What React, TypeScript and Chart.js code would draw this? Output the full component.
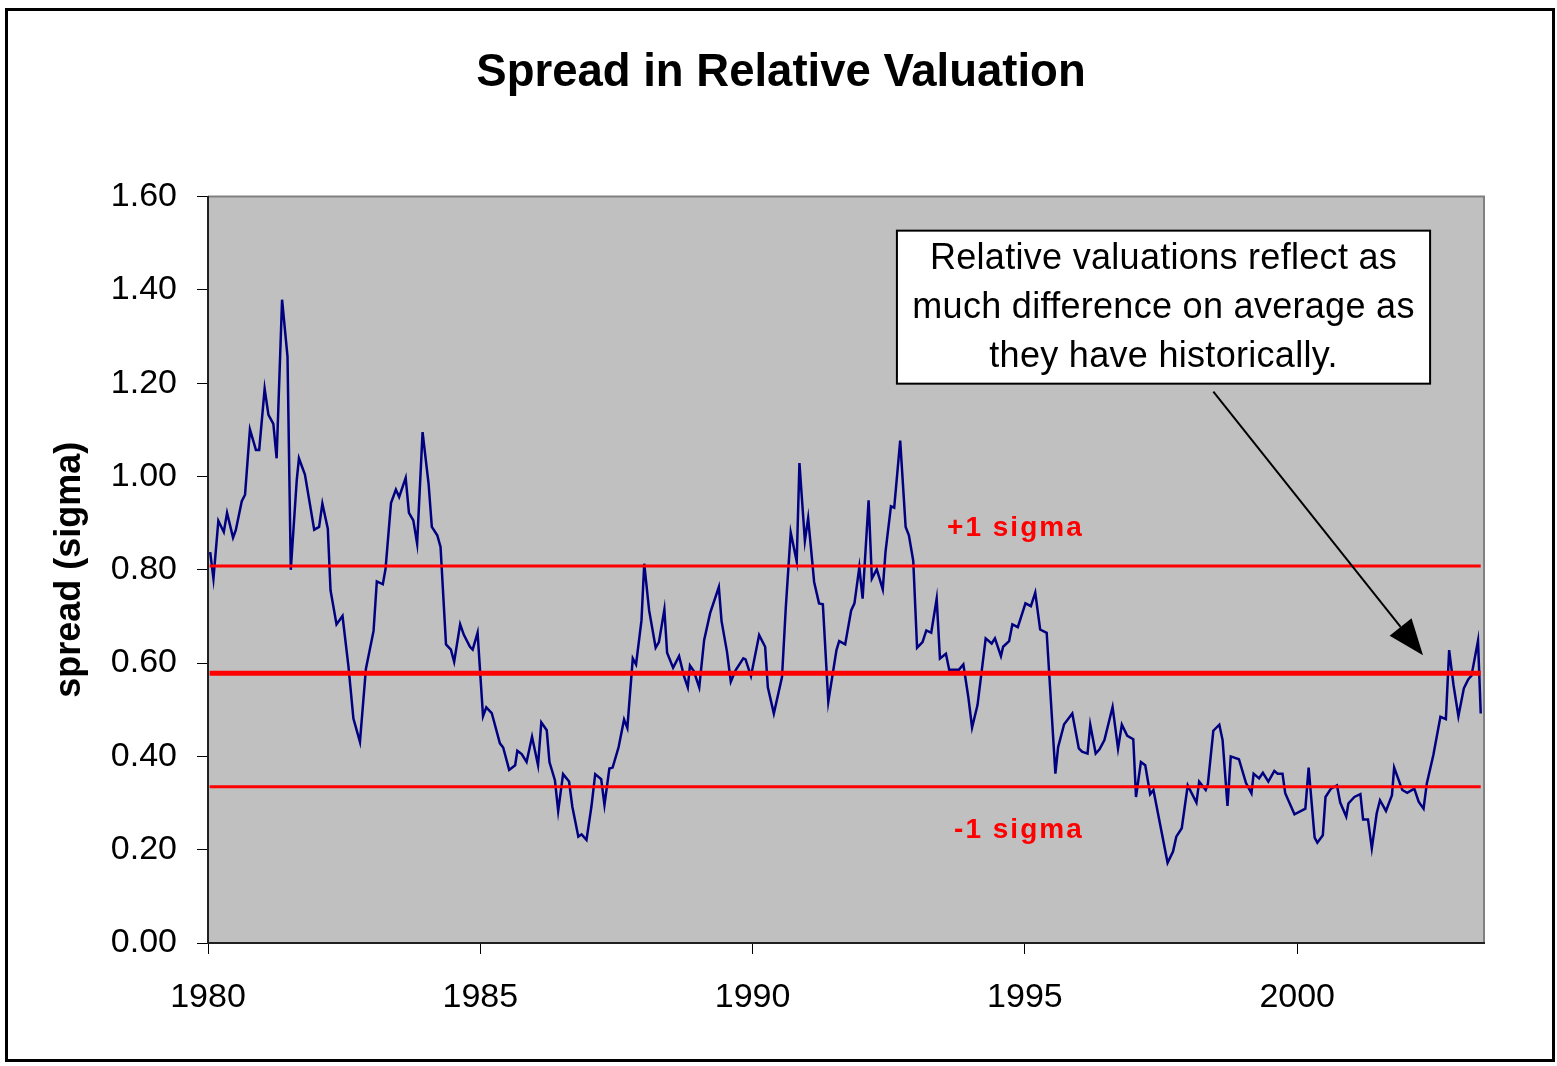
import React, { useEffect, useRef } from "react";
import { Chart, registerables } from "chart.js";

Chart.register(...registerables);

// ---- Data ----
const years: number[] = [
  1980.04, 1980.10, 1980.19, 1980.29, 1980.35, 1980.46, 1980.51, 1980.62, 1980.68, 1980.77,
  1980.88, 1980.94, 1981.04, 1981.11, 1981.20, 1981.26, 1981.36, 1981.46, 1981.52, 1981.63,
  1981.67, 1981.78, 1981.95, 1982.04, 1982.10, 1982.20, 1982.25, 1982.36, 1982.47, 1982.58,
  1982.67, 1982.79, 1982.90, 1983.04, 1983.10, 1983.21, 1983.26, 1983.36, 1983.45, 1983.51,
  1983.63, 1983.69, 1983.77, 1983.84, 1983.94, 1984.05, 1984.11, 1984.21, 1984.27, 1984.37,
  1984.46, 1984.52, 1984.63, 1984.70, 1984.81, 1984.86, 1984.95, 1985.05, 1985.11, 1985.21,
  1985.36, 1985.42, 1985.53, 1985.64, 1985.68, 1985.76, 1985.85, 1985.95, 1986.06, 1986.12,
  1986.22, 1986.27, 1986.37, 1986.43, 1986.52, 1986.63, 1986.69, 1986.80, 1986.86, 1986.95,
  1987.04, 1987.11, 1987.22, 1987.28, 1987.37, 1987.43, 1987.54, 1987.64, 1987.70, 1987.80,
  1987.86, 1987.96, 1988.01, 1988.10, 1988.22, 1988.28, 1988.38, 1988.43, 1988.54, 1988.65,
  1988.74, 1988.81, 1988.85, 1988.92, 1989.02, 1989.11, 1989.22, 1989.38, 1989.43, 1989.53,
  1989.60, 1989.69, 1989.83, 1989.87, 1989.97, 1990.12, 1990.23, 1990.28, 1990.39, 1990.54,
  1990.61, 1990.70, 1990.81, 1990.86, 1990.96, 1991.02, 1991.13, 1991.22, 1991.29, 1991.39,
  1991.54, 1991.59, 1991.70, 1991.81, 1991.87, 1991.96, 1992.02, 1992.13, 1992.19, 1992.28,
  1992.39, 1992.44, 1992.54, 1992.60, 1992.71, 1992.81, 1992.87, 1992.95, 1993.02, 1993.12,
  1993.19, 1993.28, 1993.38, 1993.44, 1993.55, 1993.61, 1993.79, 1993.87, 1993.96, 1994.03,
  1994.13, 1994.28, 1994.39, 1994.45, 1994.56, 1994.60, 1994.71, 1994.77, 1994.87, 1995.01,
  1995.11, 1995.19, 1995.28, 1995.40, 1995.56, 1995.61, 1995.72, 1995.87, 1995.99, 1996.05,
  1996.15, 1996.20, 1996.30, 1996.37, 1996.46, 1996.61, 1996.71, 1996.78, 1996.88, 1996.99,
  1997.04, 1997.13, 1997.21, 1997.30, 1997.36, 1997.62, 1997.72, 1997.78, 1997.88, 1997.99,
  1998.15, 1998.20, 1998.32, 1998.36, 1998.46, 1998.57, 1998.63, 1998.72, 1998.78, 1998.93,
  1999.06, 1999.16, 1999.20, 1999.30, 1999.37, 1999.47, 1999.58, 1999.64, 1999.73, 1999.78,
  1999.95, 2000.15, 2000.21, 2000.32, 2000.37, 2000.47, 2000.52, 2000.62, 2000.73, 2000.79,
  2000.90, 2000.94, 2001.05, 2001.16, 2001.21, 2001.30, 2001.37, 2001.46, 2001.52, 2001.63,
  2001.74, 2001.78, 2001.93, 2002.02, 2002.15, 2002.23, 2002.32, 2002.38, 2002.50, 2002.63,
  2002.73, 2002.79, 2002.87, 2002.96, 2003.06, 2003.14, 2003.20, 2003.32, 2003.37,
];

const spreadValues: number[] = [
  0.838, 0.781, 0.905, 0.881, 0.922, 0.869, 0.885, 0.947, 0.961, 1.101,
  1.057, 1.057, 1.188, 1.132, 1.113, 1.039, 1.379, 1.257, 0.800, 0.993,
  1.039, 1.004, 0.886, 0.892, 0.942, 0.888, 0.756, 0.683, 0.701, 0.592,
  0.481, 0.431, 0.588, 0.669, 0.775, 0.769, 0.802, 0.943, 0.972, 0.956,
  0.997, 0.922, 0.906, 0.856, 1.095, 0.985, 0.892, 0.874, 0.849, 0.640,
  0.629, 0.603, 0.683, 0.660, 0.635, 0.629, 0.665, 0.486, 0.505, 0.493,
  0.428, 0.419, 0.371, 0.381, 0.412, 0.405, 0.388, 0.442, 0.381, 0.473,
  0.456, 0.388, 0.349, 0.283, 0.362, 0.346, 0.292, 0.228, 0.233, 0.221,
  0.292, 0.362, 0.351, 0.296, 0.374, 0.376, 0.420, 0.479, 0.461, 0.610,
  0.597, 0.692, 0.813, 0.713, 0.633, 0.645, 0.715, 0.622, 0.590, 0.615,
  0.572, 0.548, 0.595, 0.583, 0.548, 0.649, 0.707, 0.763, 0.690, 0.624,
  0.560, 0.585, 0.610, 0.608, 0.572, 0.660, 0.635, 0.548, 0.492, 0.570,
  0.720, 0.880, 0.818, 1.029, 0.862, 0.911, 0.774, 0.728, 0.726, 0.517,
  0.628, 0.647, 0.640, 0.713, 0.728, 0.806, 0.738, 0.949, 0.781, 0.801,
  0.758, 0.838, 0.936, 0.933, 1.077, 0.892, 0.874, 0.819, 0.633, 0.645,
  0.670, 0.665, 0.738, 0.610, 0.620, 0.586, 0.586, 0.597, 0.528, 0.462,
  0.510, 0.653, 0.642, 0.653, 0.615, 0.635, 0.647, 0.683, 0.677, 0.728,
  0.722, 0.751, 0.672, 0.665, 0.363, 0.420, 0.469, 0.492, 0.417, 0.410,
  0.406, 0.468, 0.406, 0.415, 0.435, 0.506, 0.417, 0.468, 0.444, 0.437,
  0.313, 0.388, 0.381, 0.319, 0.328, 0.172, 0.196, 0.228, 0.246, 0.338,
  0.301, 0.346, 0.328, 0.341, 0.455, 0.468, 0.435, 0.294, 0.400, 0.394,
  0.343, 0.321, 0.363, 0.353, 0.365, 0.346, 0.369, 0.363, 0.363, 0.321,
  0.276, 0.288, 0.376, 0.226, 0.215, 0.231, 0.313, 0.331, 0.338, 0.301,
  0.271, 0.299, 0.313, 0.319, 0.265, 0.265, 0.203, 0.278, 0.306, 0.283,
  0.317, 0.376, 0.328, 0.322, 0.331, 0.303, 0.288, 0.342, 0.403, 0.485,
  0.480, 0.628, 0.553, 0.486, 0.546, 0.565, 0.573, 0.648, 0.492,
];

const meanLevel = 0.578;
const plusSigmaLevel = 0.808;
const minusSigmaLevel = 0.335;
const levelSpan: number[] = [1980.03, 2003.37];

const xMin = 1980;
const xMax = 2003.43;
const xStep = 5;
const yMin = 0;
const yMax = 1.6;
const yStep = 0.2;

const chartTitle = "Spread in Relative Valuation";
const yAxisTitle = "spread (sigma)";
const plusSigmaLabel = "+1 sigma";
const minusSigmaLabel = "-1 sigma";
const noteLines: string[] = [
  "Relative valuations reflect as",
  "much difference on average as",
  "they have historically.",
];

const FONT = "'Liberation Sans', Arial, Helvetica, sans-serif";

const decorPlugin = {
  id: "decor",
  beforeDraw(chart: any) {
    const { ctx, chartArea: a } = chart;
    ctx.save();
    ctx.fillStyle = "#ffffff";
    ctx.fillRect(0, 0, chart.width, chart.height);
    ctx.fillStyle = "#c0c0c0";
    ctx.fillRect(a.left, a.top, a.right - a.left, a.bottom - a.top);
    ctx.strokeStyle = "#808080";
    ctx.lineWidth = 2;
    ctx.beginPath();
    ctx.moveTo(a.left, a.top);
    ctx.lineTo(a.right, a.top);
    ctx.lineTo(a.right, a.bottom);
    ctx.stroke();
    ctx.restore();
  },
  afterDraw(chart: any) {
    const { ctx } = chart;
    const xs = chart.scales.x;
    const ys = chart.scales.y;
    ctx.save();

    // sigma labels
    ctx.font = `bold 28px ${FONT}`;
    ctx.fillStyle = "#ff0000";
    ctx.textAlign = "right";
    ctx.textBaseline = "middle";
    try { (ctx as any).letterSpacing = "2px"; } catch (e) {}
    ctx.fillText(plusSigmaLabel, xs.getPixelForValue(1996.08), ys.getPixelForValue(0.889));
    ctx.fillText(minusSigmaLabel, xs.getPixelForValue(1996.08), ys.getPixelForValue(0.242));
    try { (ctx as any).letterSpacing = "0px"; } catch (e) {}

    // arrow
    const sx = xs.getPixelForValue(1998.46);
    const sy = ys.getPixelForValue(1.182);
    const tx = xs.getPixelForValue(2002.31);
    const ty = ys.getPixelForValue(0.617);
    const ang = Math.atan2(ty - sy, tx - sx);
    const headLen = 36;
    const headHalf = 14;
    const bx = tx - headLen * Math.cos(ang);
    const by = ty - headLen * Math.sin(ang);
    ctx.strokeStyle = "#000000";
    ctx.lineWidth = 2;
    ctx.beginPath();
    ctx.moveTo(sx, sy);
    ctx.lineTo(bx, by);
    ctx.stroke();
    ctx.fillStyle = "#000000";
    ctx.beginPath();
    ctx.moveTo(tx, ty);
    ctx.lineTo(bx + headHalf * Math.sin(ang), by - headHalf * Math.cos(ang));
    ctx.lineTo(bx - headHalf * Math.sin(ang), by + headHalf * Math.cos(ang));
    ctx.closePath();
    ctx.fill();

    // note box
    const l = xs.getPixelForValue(1992.65);
    const r = xs.getPixelForValue(2002.44);
    const t = ys.getPixelForValue(1.527);
    const b = ys.getPixelForValue(1.199);
    ctx.fillStyle = "#ffffff";
    ctx.fillRect(l, t, r - l, b - t);
    ctx.strokeStyle = "#000000";
    ctx.lineWidth = 2;
    ctx.strokeRect(l, t, r - l, b - t);
    ctx.fillStyle = "#000000";
    ctx.font = `36px ${FONT}`;
    ctx.textAlign = "center";
    ctx.textBaseline = "middle";
    try { (ctx as any).letterSpacing = "0.3px"; } catch (e) {}
    const cx = (l + r) / 2;
    noteLines.forEach((line, i) => {
      ctx.fillText(line, cx, t + 28 + i * 49);
    });
    try { (ctx as any).letterSpacing = "0px"; } catch (e) {}

    // outer frame
    ctx.strokeStyle = "#000000";
    ctx.lineWidth = 3;
    ctx.strokeRect(6.5, 9.5, 1547, 1051);
    ctx.restore();
  },
};

export default function App() {
  const canvasRef = useRef<HTMLCanvasElement | null>(null);

  useEffect(() => {
    document.body.style.margin = "0";
    const canvas = canvasRef.current;
    if (!canvas) return;
    Chart.defaults.font.family = FONT;

    const spreadData = years.map((x, i) => ({ x, y: spreadValues[i] }));
    const level = (v: number) => levelSpan.map((x) => ({ x, y: v }));

    const chart = new Chart(canvas, {
      type: "line",
      data: {
        datasets: [
          { data: level(meanLevel), borderColor: "#ff0000", borderWidth: 5, pointRadius: 0, order: 0 },
          { data: level(plusSigmaLevel), borderColor: "#ff0000", borderWidth: 3, pointRadius: 0, order: 0 },
          { data: level(minusSigmaLevel), borderColor: "#ff0000", borderWidth: 3, pointRadius: 0, order: 0 },
          {
            data: spreadData,
            borderColor: "#000080",
            borderWidth: 2.5,
            pointRadius: 0,
            tension: 0,
            order: 1,
          },
        ],
      },
      options: {
        responsive: false,
        maintainAspectRatio: false,
        devicePixelRatio: 1,
        animation: false,
        events: [],
        layout: { padding: { left: 78, right: 73, top: 0, bottom: 0 } },
        plugins: {
          legend: { display: false },
          tooltip: { enabled: false },
          title: {
            display: true,
            text: chartTitle,
            color: "#000000",
            font: { family: FONT, size: 45.5, weight: "bold" },
            padding: { top: 46, bottom: 96 },
          },
        },
        scales: {
          x: {
            type: "linear",
            position: "bottom",
            min: xMin,
            max: xMax,
            afterFit: (s: any) => { s.height = 123; },
            ticks: {
              stepSize: xStep,
              includeBounds: false,
              color: "#000000",
              font: { family: FONT, size: 34 },
              padding: 23,
              maxRotation: 0,
              callback: (v: any) => String(v),
            },
            grid: { drawOnChartArea: false, drawTicks: true, tickLength: 11, color: "#000000", lineWidth: 1 },
            border: { display: true, color: "#202020", width: 2 },
          },
          y: {
            type: "linear",
            position: "left",
            min: yMin,
            max: yMax,
            afterFit: (s: any) => { s.width = 130; },
            ticks: {
              stepSize: yStep,
              includeBounds: false,
              color: "#000000",
              font: { family: FONT, size: 34 },
              padding: 20,
              callback: (v: any) => Number(v).toFixed(2),
            },
            grid: { drawOnChartArea: false, drawTicks: true, tickLength: 11, color: "#000000", lineWidth: 1 },
            border: { display: true, color: "#202020", width: 2 },
            title: {
              display: true,
              text: yAxisTitle,
              color: "#000000",
              font: { family: FONT, size: 36, weight: "bold" },
              padding: { top: -29.6, bottom: 0 },
            },
          },
        },
      },
      plugins: [decorPlugin],
    });

    return () => chart.destroy();
  }, []);

  return (
    <div style={{ width: 1557, height: 1066, overflow: "hidden" }}>
      <canvas ref={canvasRef} width={1557} height={1066} style={{ display: "block" }} />
    </div>
  );
}
